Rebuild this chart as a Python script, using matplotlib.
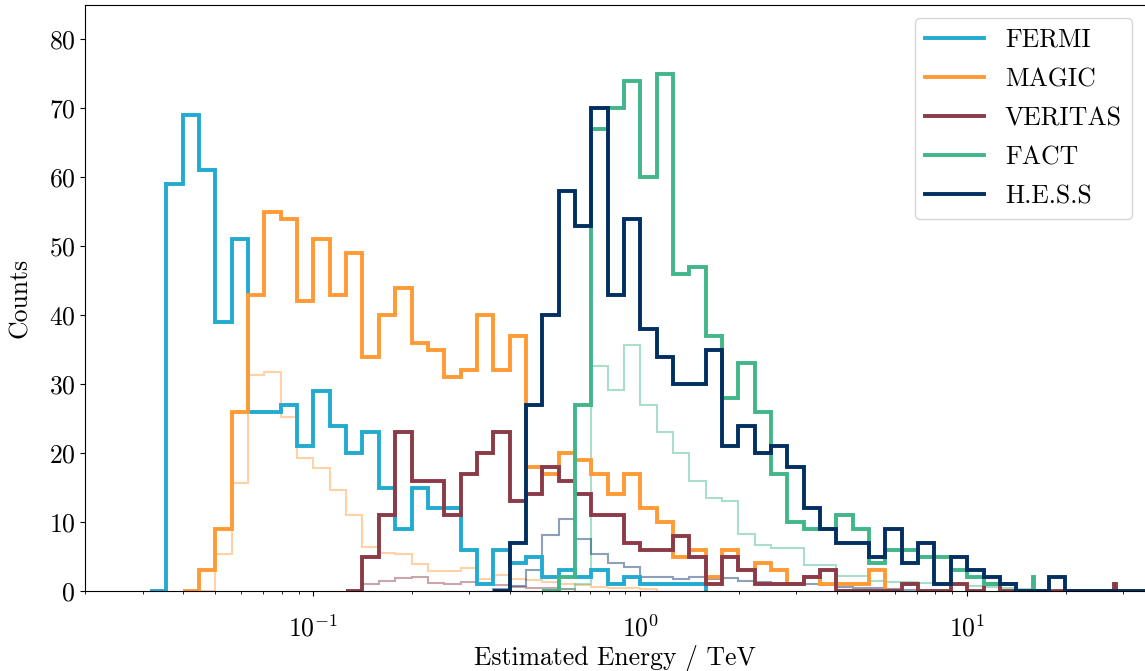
import matplotlib
matplotlib.use("Agg")
import matplotlib.pyplot as plt
import numpy as np

# computer modern look, like the LaTeX original
plt.rcParams['font.family'] = 'serif'
plt.rcParams['font.serif'] = ['cmr10']
plt.rcParams['mathtext.fontset'] = 'cm'
plt.rcParams['axes.formatter.use_mathtext'] = True
plt.rcParams['font.size'] = 18.5

# bins are 0.05 decades wide, each series starts at its own edge (log10 TeV)
step = 0.05

fermi_lo = -1.50
fermi = [0, 59, 69, 61, 39, 51, 26, 26, 27, 21, 29, 24, 20, 23, 15, 9, 15, 12, 12,
         6, 1, 6, 4, 5, 2, 3, 2, 3, 1, 2, 1, 1, 1, 1]

magic_lo = -1.40
magic = [0, 3, 9, 26, 43, 55, 54, 42, 51, 43, 49, 34, 40, 44, 36, 35, 31, 32, 40,
         32, 37, 18, 17, 20, 19, 17, 14, 17, 12, 10, 5, 6, 2, 6, 3, 4, 3, 1, 2, 1,
         1, 1, 3]

veritas_lo = -0.90
veritas = [0, 5, 11, 23, 16, 16, 11, 17, 20, 23, 13, 14, 18, 16, 14, 11, 11, 7, 6,
           6, 8, 5, 1, 5, 3, 1, 1, 1, 2, 3, 0, 0, 0, 0, 1, 0, 0, 1, 0, 1,
           0, 0, 0, 0, 0, 0, 0]
veritas_last = 1      # last (narrow) bin up to the highest event
veritas_emax = 28.5

fact_lo = -0.30
fact = [0, 2, 27, 67, 70, 74, 60, 75, 46, 47, 37, 28, 33, 26, 17, 10, 9, 9, 11, 9,
        4, 6, 6, 5, 5, 3, 2, 1, 1, 0]
fact_last = 2
fact_emax = 16.0

hess_lo = -0.45
hess = [0, 7, 27, 40, 58, 53, 70, 43, 54, 38, 34, 30, 30, 35, 21, 24, 20, 21, 18,
        12, 9, 7, 7, 5, 9, 4, 7, 1, 5, 3, 2, 1, 0, 0, 2, 0, 0, 0, 0, 0]

# faint histograms underneath
magic_lo_b = -1.35
magic_b = [0, 5.4, 15.7, 31.4, 31.7, 25.2, 19.3, 17.8, 14.6, 11.0, 6.4, 5.5, 5.4,
           3.9, 2.9, 2.9, 3.3, 1.8, 2.3, 1.8, 1.6, 1.3, 1.0, 0.8, 0.6, 0.5, 0.4, 0.3]

veritas_lo_b = -0.90
veritas_b = [0, 1.0, 1.5, 1.9, 2.0, 1.2, 1.0, 1.3, 1.1, 0.8, 0.6, 0.5, 0.4, 0.3]

fact_lo_b = -0.25
fact_b = [0.3, 1.0, 32.7, 29.1, 35.7, 27.0, 23.1, 20.0, 16.0, 13.5, 13.1, 8.3, 6.6,
          6.2, 6.2, 3.7, 3.7, 2.2, 2.2, 1.5, 1.3, 1.3, 1.2, 1.0, 0.8, 0.7, 0.6,
          0.4, 0.3]

hess_lo_b = -0.45
hess_b = [0.3, 0.7, 3.0, 8.1, 10.5, 7.6, 5.4, 4.0, 3.5, 2.0, 2.0, 1.8, 2.0, 1.8,
          1.9, 1.4, 1.3, 1.0, 1.0, 1.0, 0.8, 0.6, 0.5, 0.4, 0.3, 0.2]

names = ['FERMI', 'MAGIC', 'VERITAS', 'FACT', 'H.E.S.S']
colors = ['#22abd0', '#ff9a35', '#8b3b48', '#41b689', '#012f62']


def edges(lo, n, emax=None):
    e = 10 ** (lo + step * np.arange(n + 1))
    if emax is not None:
        e = np.append(e, emax)
    return e


fig = plt.figure(figsize=(11.45, 6.71), dpi=100)
ax = fig.add_axes([85 / 1145, 80 / 671, 1 - 85 / 1145, 586 / 671])

# faint ones first
faint = [(magic_lo_b, magic_b, colors[1]), (veritas_lo_b, veritas_b, colors[2]),
         (fact_lo_b, fact_b, colors[3]), (hess_lo_b, hess_b, colors[4])]
for lo, vals, c in faint:
    ax.stairs(vals, edges(lo, len(vals)), color=c, lw=1.5, alpha=0.45)

thick = [
    (fermi, edges(fermi_lo, len(fermi))),
    (magic, edges(magic_lo, len(magic))),
    (veritas + [veritas_last], edges(veritas_lo, len(veritas), veritas_emax)),
    (fact + [fact_last], edges(fact_lo, len(fact), fact_emax)),
    (hess, edges(hess_lo, len(hess))),
]
for (vals, e), name, c in zip(thick, names, colors):
    ax.stairs(vals, e, color=c, lw=2.8, label=name)

ax.set_xscale('log')
ax.set_xlim(0.02, 35)
ax.set_ylim(0, 85)
ax.spines['right'].set_visible(False)
ax.tick_params(axis='x', which='major', pad=14)
ax.set_xlabel('Estimated Energy / TeV', labelpad=2)
ax.set_ylabel('Counts', labelpad=12)

ax.legend(loc='upper right', handlelength=2.3, labelspacing=0.6)

fig.savefig('out.png', dpi=100)
